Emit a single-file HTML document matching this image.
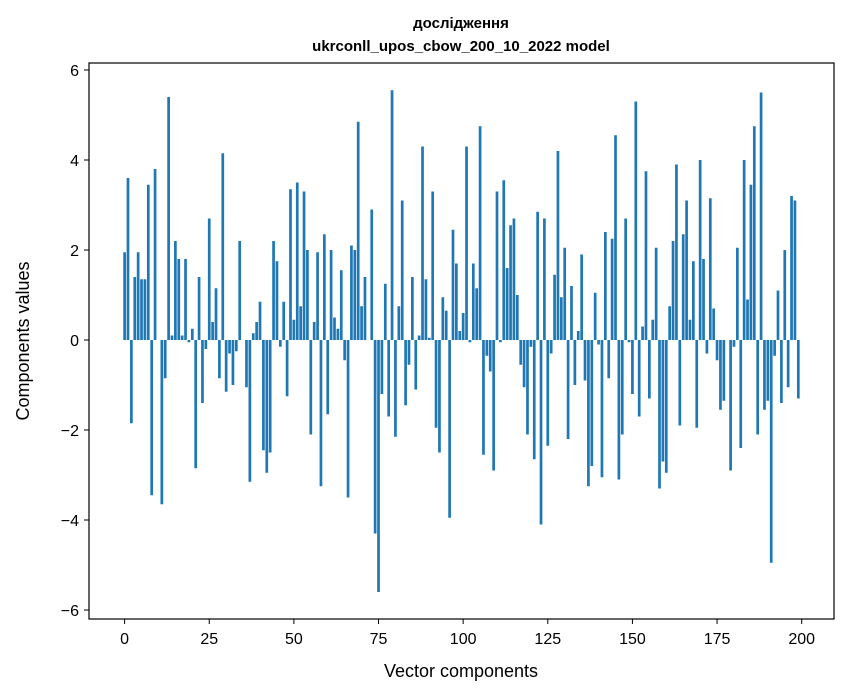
<!DOCTYPE html>
<html><head><meta charset="utf-8"><style>
body{margin:0;background:#fff;width:847px;height:696px;overflow:hidden}
svg{display:block;font-family:"Liberation Sans","DejaVu Sans",sans-serif}
</style></head><body>
<svg id="chart" width="847" height="696">
<text x="461" y="28" text-anchor="middle" font-size="15" font-weight="bold">дослідження</text>
<text x="461" y="51" text-anchor="middle" font-size="15" font-weight="bold">ukrconll_upos_cbow_200_10_2022 model</text>
<g id="bars"></g>
<rect x="89" y="63" width="745" height="556" fill="none" stroke="#000" stroke-width="1.2"/>
<g id="xticks"></g>
<g id="yticks"></g>
<text x="461" y="677" text-anchor="middle" font-size="18">Vector components</text>
<text transform="translate(29,341) rotate(-90)" text-anchor="middle" font-size="18">Components values</text>
</svg>
<script>
const values = [1.95,3.6,-1.85,1.4,1.95,1.35,1.35,3.45,-3.45,3.8,0,-3.65,-0.85,5.4,0.1,2.2,1.8,0.1,1.8,-0.05,
0.25,-2.85,1.4,-1.4,-0.2,2.7,0.4,1.15,-0.85,4.15,-1.15,-0.3,-1.0,-0.25,2.2,0,-1.05,-3.15,0.15,0.4,
0.85,-2.45,-2.95,-2.5,2.2,1.75,-0.15,0.85,-1.25,3.35,0.45,3.5,0.75,3.3,2.0,-2.1,0.4,1.95,-3.25,2.35,
-1.65,2.0,0.5,0.25,1.55,-0.45,-3.5,2.1,2.0,4.85,0.75,1.4,0,2.9,-4.3,-5.6,-1.2,1.25,-1.7,5.55,
-2.15,0.75,3.1,-1.45,-0.55,1.4,-1.1,0.1,4.3,1.35,0.05,3.3,-1.95,-2.5,0.95,0.65,-3.95,2.45,1.7,0.2,
0.6,4.3,-0.05,1.7,1.15,4.75,-2.55,-0.35,-0.7,-2.9,3.3,-0.05,3.55,1.6,2.55,2.7,1.0,-0.55,-1.05,-2.1,
-0.15,-2.65,2.85,-4.1,2.7,-2.35,-0.3,1.45,4.2,0.95,2.05,-2.2,1.2,-1.0,0.2,1.9,-0.9,-3.25,-2.8,1.05,
-0.1,-3.05,2.4,-0.85,2.25,4.55,-3.1,-2.1,2.7,-0.05,-1.2,5.3,-1.7,0.3,3.75,-1.3,0.45,2.05,-3.3,-2.7,
-2.95,0.75,2.2,3.9,-1.9,2.35,3.1,0.45,1.75,-1.95,4.0,1.8,-0.3,3.15,0.7,-0.45,-1.55,-1.35,0,-2.9,
-0.15,2.05,-2.4,4.0,0.9,3.45,4.75,-2.1,5.5,-1.55,-1.35,-4.95,-0.35,1.1,-1.4,2.0,-1.05,3.2,3.1,-1.3];
const xTicks = [0,25,50,75,100,125,150,175,200];
const yTicks = [-6,-4,-2,0,2,4,6];
const NS="http://www.w3.org/2000/svg";
const xs = v => 124.6 + v*3.3855;
const ys = v => 340 - v*45;
const bars=document.getElementById('bars');
values.forEach((v,i)=>{
  const r=document.createElementNS(NS,'rect');
  const y0=ys(Math.max(v,0)), y1=ys(Math.min(v,0));
  r.setAttribute('x',xs(i)-1.35);
  r.setAttribute('y',y0);
  r.setAttribute('width',2.7);
  r.setAttribute('height',Math.max(y1-y0,0));
  r.setAttribute('fill','#1f77b4');
  
  
  bars.appendChild(r);
});
const xg=document.getElementById('xticks');
xTicks.forEach(t=>{
  const l=document.createElementNS(NS,'line');
  l.setAttribute('x1',xs(t));l.setAttribute('x2',xs(t));l.setAttribute('y1',619);l.setAttribute('y2',624);l.setAttribute('stroke','#000');
  
  
  xg.appendChild(l);
  const tx=document.createElementNS(NS,'text');
  tx.setAttribute('x',xs(t));tx.setAttribute('y',644);tx.setAttribute('text-anchor','middle');tx.setAttribute('font-size','16');
  tx.textContent=t;
  
  
  xg.appendChild(tx);
});
const yg=document.getElementById('yticks');
yTicks.forEach(t=>{
  const l=document.createElementNS(NS,'line');
  l.setAttribute('x1',84);l.setAttribute('x2',89);l.setAttribute('y1',ys(t));l.setAttribute('y2',ys(t));l.setAttribute('stroke','#000');
  
  
  yg.appendChild(l);
  const tx=document.createElementNS(NS,'text');
  tx.setAttribute('x',79);tx.setAttribute('y',ys(t)+6);tx.setAttribute('text-anchor','end');tx.setAttribute('font-size','16');
  tx.textContent=t<0?'\u2212'+(-t):String(t);
  
  
  yg.appendChild(tx);
});
</script>
</body></html>
